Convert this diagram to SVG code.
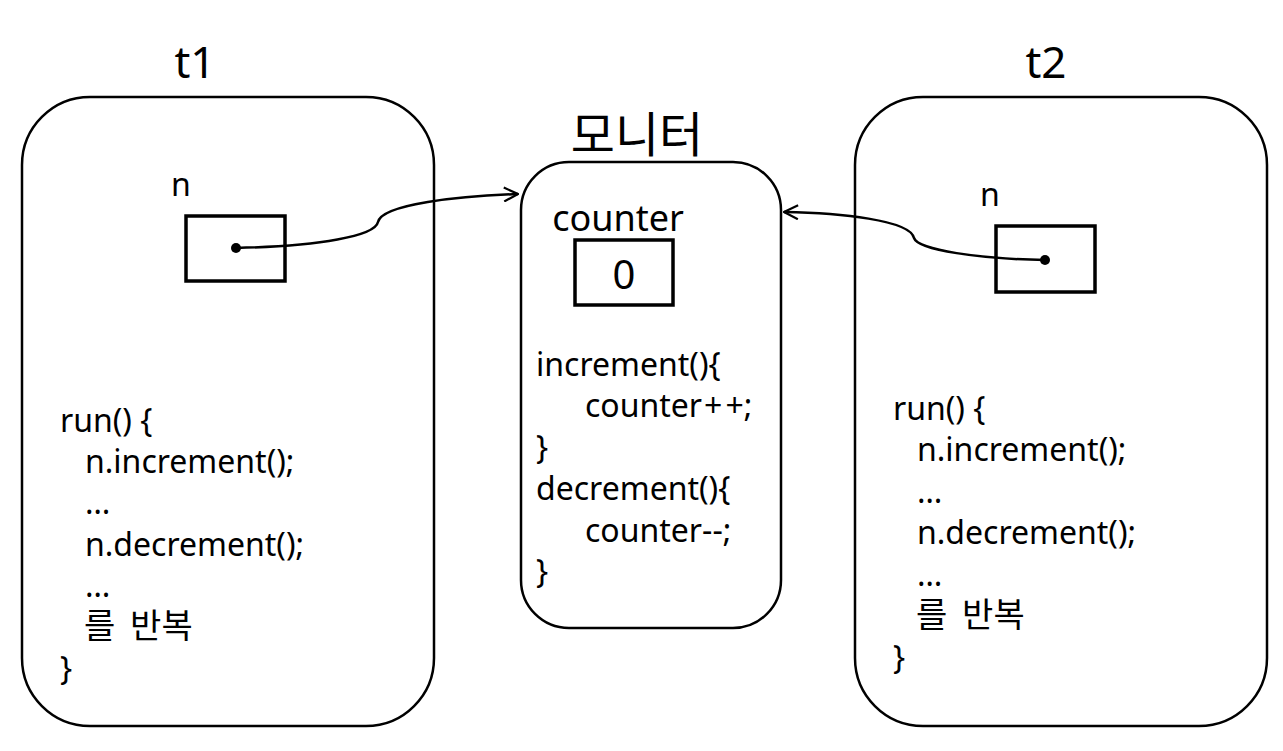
<svg xmlns="http://www.w3.org/2000/svg" width="1283" height="751" viewBox="0 0 1283 751">
<defs>
<style>
text{font-family:"Noto Sans","Noto Sans CJK KR",sans-serif;fill:#000}
.code{font-size:32px}
.kr{font-size:34px;word-spacing:6px}
.title{font-size:44px}
.frame{fill:none;stroke:#000;stroke-width:2.5}
.box{fill:none;stroke:#000;stroke-width:3.5}
.link{fill:none;stroke:#000;stroke-width:2.5}
</style>
<marker id="arr" viewBox="0 0 16 16" refX="15" refY="8" markerWidth="16" markerHeight="16" markerUnits="userSpaceOnUse" orient="auto">
<path d="M1,1 L15,8 L1,15" fill="none" stroke="#000" stroke-width="2.2"/>
</marker>
</defs>
<rect width="1283" height="751" fill="#fff"/>
<g id="t1">
<text class="title" x="195" y="78" text-anchor="middle">t1</text>
<rect class="frame" x="22" y="97" width="412" height="629" rx="68" ry="68"/>
<text class="code" x="181" y="196" text-anchor="middle">n</text>
<rect class="box" x="186" y="216" width="99" height="65"/>
<circle cx="236" cy="248" r="5"/>
<text class="code" x="60" y="432">run() {</text>
<text class="code" x="85" y="473">n.increment();</text>
<text class="code" x="85" y="514">…</text>
<text class="code" x="85" y="556">n.decrement();</text>
<text class="code" x="85" y="597">…</text>
<text class="kr" x="84" y="638">를 반복</text>
<text class="code" x="60" y="680">}</text>
</g>
<g id="monitor">
<text x="637" y="152" text-anchor="middle" style="font-size:48px">모니터</text>
<rect class="frame" x="521" y="162" width="260" height="466" rx="48" ry="48"/>
<text x="618" y="231" text-anchor="middle" style="font-size:36px">counter</text>
<rect class="box" x="575" y="240" width="98" height="65"/>
<text x="624" y="289" text-anchor="middle" style="font-size:40px">0</text>
<text class="code" x="536" y="376">increment(){</text>
<text class="code" x="585" y="417">counter<tspan dx="2">+</tspan><tspan dx="3">+</tspan>;</text>
<text class="code" x="536" y="459">}</text>
<text class="code" x="536" y="500">decrement(){</text>
<text class="code" x="585" y="542">counter--;</text>
<text class="code" x="536" y="583">}</text>
</g>
<g id="t2">
<text class="title" x="1046" y="78" text-anchor="middle">t2</text>
<rect class="frame" x="855" y="97" width="412" height="629" rx="68" ry="68"/>
<text class="code" x="990" y="206" text-anchor="middle">n</text>
<rect class="box" x="996" y="226" width="99" height="66"/>
<circle cx="1045" cy="260" r="5"/>
<text class="code" x="893" y="420">run() {</text>
<text class="code" x="917" y="461">n.increment();</text>
<text class="code" x="917" y="503">…</text>
<text class="code" x="917" y="544">n.decrement();</text>
<text class="code" x="917" y="586">…</text>
<text class="kr" x="916" y="627">를 반복</text>
<text class="code" x="893" y="669">}</text>
</g>
<g id="connectors">
<path class="link" d="M236,248 C320,246 375,236 378,222 C382,204 460,196 518,194" marker-end="url(#arr)"/>
<path class="link" d="M1045,260 C980,259 918,250 914,238 C910,220 840,213 784,212" marker-end="url(#arr)"/>
</g>
</svg>
